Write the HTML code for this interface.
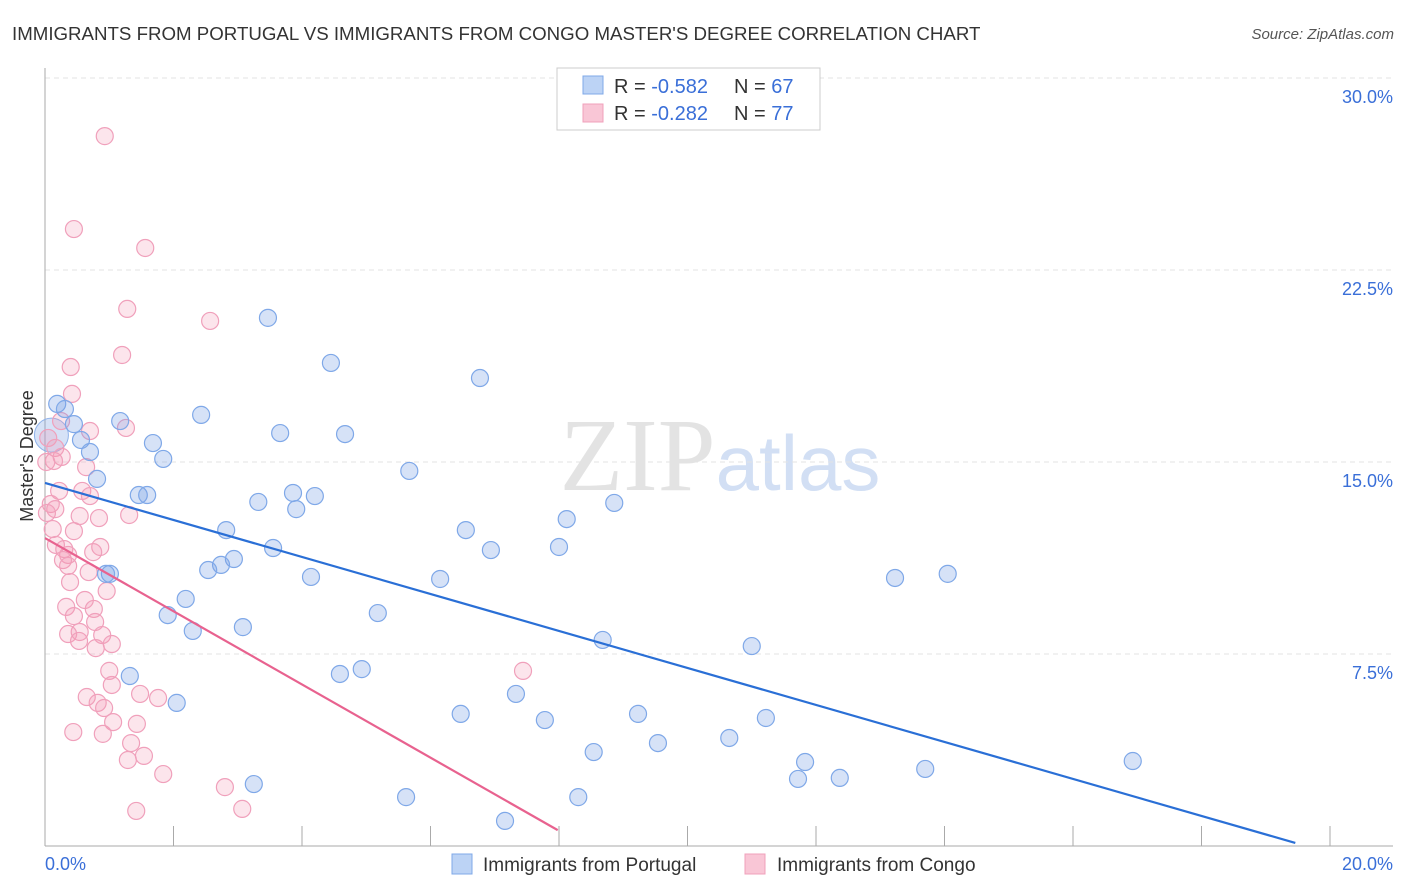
<!DOCTYPE html>
<html><head><meta charset="utf-8"><style>
body{margin:0;background:#fff;font-family:"Liberation Sans",sans-serif;}
svg{display:block}
</style></head><body>
<svg id="c" width="1406" height="892" xmlns="http://www.w3.org/2000/svg">
<text x="12" y="40" font-size="18.7" fill="#333">IMMIGRANTS FROM PORTUGAL VS IMMIGRANTS FROM CONGO MASTER'S DEGREE CORRELATION CHART</text>
<text x="1394" y="39" font-size="15" fill="#555" font-style="italic" text-anchor="end">Source: ZipAtlas.com</text>
<text x="720" y="490" font-size="104" text-anchor="middle" font-family="Liberation Serif,serif" fill="#ddd" opacity="0.8">ZIP<tspan fill="#c7d8f2" font-family="Liberation Sans,sans-serif" font-size="78">atlas</tspan></text>
<text transform="translate(33,456) rotate(-90)" font-size="18" fill="#333" text-anchor="middle">Master's Degree</text>
<g id="grid"></g><g id="pts"></g><g id="lines"></g>
<g>
<rect x="557" y="68" width="263" height="62" fill="#fff" stroke="#ccc"/>
<rect x="583" y="76" width="20" height="18" fill="#bcd3f5" stroke="#7fa8e8"/>
<rect x="583" y="104" width="20" height="18" fill="#f9c6d6" stroke="#f0a0bb"/>
<text x="614" y="93" font-size="20" fill="#333">R = <tspan fill="#3a6fd8">-0.582</tspan></text>
<text x="734" y="93" font-size="20" fill="#333">N = <tspan fill="#3a6fd8">67</tspan></text>
<text x="614" y="120" font-size="20" fill="#333">R = <tspan fill="#3a6fd8">-0.282</tspan></text>
<text x="734" y="120" font-size="20" fill="#333">N = <tspan fill="#3a6fd8">77</tspan></text>
</g>
<g>
<rect x="452" y="854" width="20" height="20" fill="#bcd3f5" stroke="#7fa8e8"/>
<text x="483" y="871" font-size="19" fill="#333">Immigrants from Portugal</text>
<rect x="745" y="854" width="20" height="20" fill="#f9c6d6" stroke="#f0a0bb"/>
<text x="777" y="871" font-size="19" fill="#333">Immigrants from Congo</text>
</g>
</svg>
<script>
const yTicks=[7.5,15,22.5,30];
const yTickLabels=["7.5%","15.0%","22.5%","30.0%"];
const xTicks=[0,2,4,6,8,10,12,14,16,18,20];
const blueX=[0.19,0.31,0.45,0.56,0.70,0.81,1.17,1.68,1.84,1.46,1.59,2.43,3.47,4.45,3.66,4.67,6.77,5.67,3.86,4.20,3.91,3.32,2.82,2.94,2.74,2.54,3.55,4.14,2.19,1.91,2.30,3.08,1.01,0.95,1.32,2.05,4.59,4.93,5.18,6.15,6.55,6.94,8.12,8.86,8.00,8.68,7.33,6.47,7.78,9.23,9.54,8.54,10.65,11.22,11.00,13.23,14.05,11.83,11.72,12.37,13.70,16.93,3.25,5.62,8.30,7.16];
const blueY=[17.27,17.07,16.48,15.86,15.39,14.34,16.60,15.74,15.12,13.71,13.71,16.84,20.63,18.87,16.13,16.09,18.28,14.65,13.79,13.67,13.16,13.44,12.34,11.21,10.98,10.78,11.64,10.51,9.65,9.02,8.40,8.55,10.63,10.63,6.64,5.59,6.72,6.91,9.10,10.43,12.34,11.56,12.77,13.40,11.68,8.05,5.94,5.16,4.92,5.16,4.02,3.67,4.22,5.00,7.81,10.47,10.63,3.28,2.62,2.66,3.01,3.32,2.42,1.91,1.91,0.98];
const pinkX=[0.93,0.45,1.56,1.28,2.57,1.20,0.40,0.42,0.25,1.26,0.70,0.05,0.16,0.26,0.14,0.02,0.64,0.22,0.58,0.70,0.09,0.16,0.03,0.54,0.84,1.31,0.45,0.12,0.17,0.30,0.36,0.86,0.75,0.28,0.36,0.68,0.39,0.96,0.62,0.33,0.76,0.45,0.78,0.54,0.36,0.89,0.53,1.04,0.79,1.00,7.44,1.04,0.65,0.82,1.48,1.76,0.92,1.06,1.43,0.44,0.90,1.34,1.54,1.29,1.84,2.80,1.42,3.07];
const pinkY=[27.73,24.10,23.36,20.98,20.51,19.18,18.71,17.66,16.60,16.33,16.21,15.94,15.55,15.20,15.04,15.00,14.80,13.87,13.87,13.67,13.36,13.16,13.01,12.89,12.81,12.93,12.30,12.38,11.76,11.60,11.37,11.68,11.48,11.17,10.94,10.70,10.31,9.96,9.61,9.34,9.26,8.98,8.75,8.36,8.28,8.24,8.01,7.89,7.73,6.84,6.84,6.29,5.82,5.59,5.94,5.78,5.39,4.84,4.77,4.45,4.38,4.02,3.52,3.36,2.81,2.30,1.37,1.45];
const blueLine=[[0,14.18],[19.46,0.12]];
const pinkLine=[[0,12.03],[7.98,0.62]];
const X=v=>45+v*64.25, Y=v=>846-v*25.6;
const NS="http://www.w3.org/2000/svg";
function mk(p,t,a){const e=document.createElementNS(NS,t);for(const k in a)e.setAttribute(k,a[k]);p.appendChild(e);return e;}
const g=document.getElementById('grid');
yTicks.forEach((t,i)=>{
 const l=mk(g,'line',{x1:45,x2:1393,y1:Y(t),y2:Y(t),stroke:'#e3e3e3','stroke-dasharray':'5,4'});
 
 
 const tx=mk(g,'text',{x:1393,y:Y(t)+25,'font-size':18,fill:'#3a6fd8','text-anchor':'end'});
 tx.textContent=yTickLabels[i];
 
 
});
mk(g,'line',{x1:45,x2:45,y1:68,y2:846,stroke:'#aaa'});
mk(g,'line',{x1:45,x2:1393,y1:846,y2:846,stroke:'#aaa'});
xTicks.forEach(t=>{const l=mk(g,'line',{x1:X(t),x2:X(t),y1:826,y2:846,stroke:'#aaa'});
 
 });
let a=mk(g,'text',{x:45,y:870,'font-size':18,fill:'#3a6fd8'});a.textContent='0.0%';


a=mk(g,'text',{x:1393,y:870,'font-size':18,fill:'#3a6fd8','text-anchor':'end'});a.textContent='20.0%';


const p=document.getElementById('pts');
const big=mk(p,'circle',{cx:X(0.1),cy:Y(16.05),r:17,fill:'rgba(120,160,230,0.3)',stroke:'#8fb2ea'});


pinkX.forEach((x,i)=>{const c=mk(p,'circle',{cx:X(x),cy:Y(pinkY[i]),r:8.5,fill:'rgba(245,150,180,0.25)',stroke:'#f0a0bb','stroke-width':1.2});
 
 });
blueX.forEach((x,i)=>{const c=mk(p,'circle',{cx:X(x),cy:Y(blueY[i]),r:8.5,fill:'rgba(120,160,230,0.3)',stroke:'#7fa8e8','stroke-width':1.2});
 
 });
const L=document.getElementById('lines');
let ln=mk(L,'line',{x1:X(blueLine[0][0]),y1:Y(blueLine[0][1]),x2:X(blueLine[1][0]),y2:Y(blueLine[1][1]),stroke:'#2a6fd6','stroke-width':2.2});


ln=mk(L,'line',{x1:X(pinkLine[0][0]),y1:Y(pinkLine[0][1]),x2:X(pinkLine[1][0]),y2:Y(pinkLine[1][1]),stroke:'#e8628f','stroke-width':2.2});


</script>
</body></html>
